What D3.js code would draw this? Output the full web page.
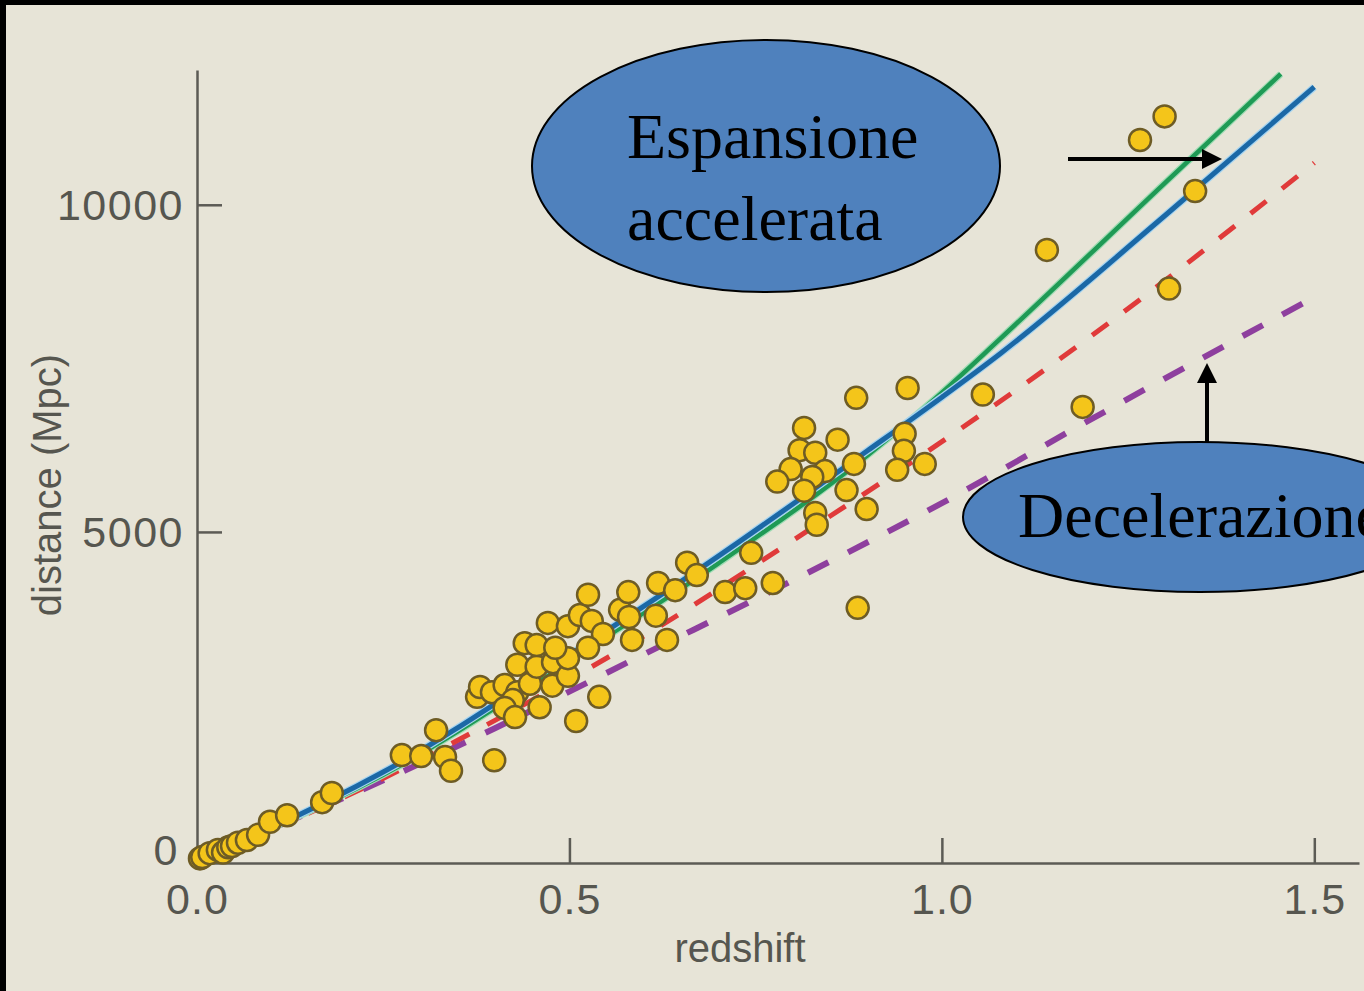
<!DOCTYPE html>
<html>
<head>
<meta charset="utf-8">
<script src="https://cdn.jsdelivr.net/npm/d3@7"></script>
<style>
  html, body { margin: 0; padding: 0; background: #000; }
  svg { display: block; }
</style>
</head>
<body>
<svg id="chart" width="1364" height="991"></svg>
<script>
// Hubble diagram: type Ia supernova distances against redshift, with model curves.

const redshiftTicks = [0, 0.5, 1.0, 1.5];
const distanceTicks = [0, 5000, 10000];

// Observed supernovae: [redshift, distance in Mpc]
const supernovae = [
  [0.004, 10], [0.007, 30], [0.017, 90], [0.028, 140], [0.035, 100], [0.042, 180],
  [0.047, 200], [0.055, 250], [0.067, 290], [0.082, 370], [0.098, 570], [0.121, 670],
  [0.168, 870], [0.181, 1010],
  [0.275, 1590], [0.301, 1575], [0.321, 1970], [0.333, 1560], [0.341, 1350], [0.399, 1510],
  [0.376, 2480], [0.380, 2630], [0.396, 2550], [0.413, 2660], [0.430, 2550], [0.424, 2430],
  [0.413, 2310], [0.427, 2170], [0.447, 2680], [0.460, 2320], [0.477, 2650], [0.430, 2970],
  [0.456, 2940], [0.478, 3010], [0.498, 2800], [0.498, 3070], [0.440, 3300], [0.456, 3270],
  [0.481, 3230], [0.471, 3610], [0.498, 3560], [0.514, 3730], [0.530, 3640], [0.545, 3440],
  [0.525, 3230], [0.525, 4040], [0.540, 2480], [0.509, 2110], [0.568, 3810], [0.580, 3700],
  [0.584, 3350], [0.579, 4080], [0.616, 3720], [0.631, 3350], [0.619, 4220], [0.642, 4110],
  [0.658, 4530], [0.671, 4340], [0.709, 4080], [0.736, 4140], [0.773, 4220], [0.744, 4680],
  [0.887, 3840],
  [0.885, 7050], [0.954, 7200], [1.055, 7100], [0.815, 6590], [0.860, 6410], [0.950, 6500],
  [0.809, 6250], [0.830, 6210], [0.949, 6240], [0.797, 5960], [0.843, 5930], [0.882, 6040],
  [0.977, 6040], [0.940, 5950], [0.779, 5770], [0.826, 5840], [0.815, 5630], [0.872, 5640],
  [0.899, 5350], [0.830, 5290], [0.832, 5110],
  [1.299, 11350], [1.266, 10990], [1.340, 10210], [1.141, 9310], [1.305, 8720], [1.189, 6910]
];

// Model curves: [redshift, distance in Mpc]
const curveGreen = [[0, 0], [0.1, 470], [0.25, 1290], [0.5, 3040], [0.7, 4520], [0.9, 6170],
  [1.0, 7130], [1.08, 7970], [1.3, 10340], [1.455, 12000]];
const curveBlue = [[0, 0], [0.1, 480], [0.25, 1330], [0.5, 3120], [0.7, 4630], [0.9, 6240],
  [1.0, 7060], [1.08, 7740], [1.3, 9840], [1.5, 11800]];
const curveRed = [[0, 0], [0.2, 960], [0.4, 2120], [0.6, 3410], [0.8, 4870], [1.0, 6380],
  [1.2, 7990], [1.5, 10640]];
const curvePurple = [[0, 0], [0.2, 950], [0.4, 2000], [0.6, 3130], [0.8, 4260], [1.0, 5440],
  [1.2, 6720], [1.505, 8620]];

const svg = d3.select("#chart");

// slide panel
svg.append("rect").attr("x", 6).attr("y", 5).attr("width", 1358).attr("height", 986)
  .attr("fill", "#e7e4d7");

const x = d3.scaleLinear().domain([0, 1.56]).range([197, 1359]);
const y = d3.scaleLinear().domain([-60, 12060]).range([863, 70]);

const axisColor = "#5c5b55";
const labelColor = "#56564f";
const sans = "'Liberation Sans', Arial, Helvetica, sans-serif";

// y axis
const gy = svg.append("g").attr("transform", `translate(${x(0)},0)`)
  .call(d3.axisLeft(y).tickValues(distanceTicks).tickSizeInner(-25).tickSizeOuter(0)
    .tickPadding(13).tickFormat(d3.format("d")));
gy.select(".domain").attr("stroke", axisColor).attr("stroke-width", 2.5);
gy.selectAll(".tick line").attr("stroke", axisColor).attr("stroke-width", 2.5)
  .attr("display", d => d === 0 ? "none" : null);
gy.selectAll(".tick text").attr("fill", labelColor).attr("font-family", sans)
  .attr("font-size", 43).attr("letter-spacing", 1.5)
  .attr("dy", d => d === 0 ? "0.12em" : "0.34em")
  .attr("dx", d => d === 0 ? -5 : 0);

// x axis
const gx = svg.append("g").attr("transform", `translate(0,${y(-60)})`)
  .call(d3.axisBottom(x).tickValues(redshiftTicks).tickSizeInner(-25).tickSizeOuter(0)
    .tickPadding(20).tickFormat(d3.format(".1f")));
gx.select(".domain").attr("stroke", axisColor).attr("stroke-width", 2.5);
gx.selectAll(".tick line").attr("stroke", axisColor).attr("stroke-width", 2.5)
  .attr("display", d => d === 0 ? "none" : null);
gx.selectAll(".tick text").attr("fill", labelColor).attr("font-family", sans)
  .attr("font-size", 43).attr("letter-spacing", 1);

// axis titles
svg.append("text").attr("x", 740).attr("y", 962).attr("text-anchor", "middle")
  .attr("font-family", sans).attr("font-size", 40).attr("fill", labelColor)
  .text("redshift");
svg.append("text").attr("transform", "translate(61,485) rotate(-90)")
  .attr("text-anchor", "middle").attr("font-family", sans).attr("font-size", 40)
  .attr("fill", labelColor).text("distance (Mpc)");

// model curves
const line = d3.line().x(d => x(d[0])).y(d => y(d[1])).curve(d3.curveMonotoneX);
const curves = svg.append("g").attr("fill", "none").attr("stroke-linecap", "butt");

curves.append("path").datum(curvePurple).attr("d", line)
  .attr("stroke", "#8e3f9e").attr("stroke-width", 6).attr("stroke-dasharray", "23 22");
curves.append("path").datum(curveRed).attr("d", line)
  .attr("stroke", "#e03a3a").attr("stroke-width", 5).attr("stroke-dasharray", "20 20");
curves.append("path").datum(curveGreen).attr("d", line)
  .attr("stroke", "#9fdcb4").attr("stroke-width", 7);
curves.append("path").datum(curveGreen).attr("d", line)
  .attr("stroke", "#1f9a55").attr("stroke-width", 4.5);
curves.append("path").datum(curveBlue).attr("d", line)
  .attr("stroke", "#a6d4f0").attr("stroke-width", 7.5);
curves.append("path").datum(curveBlue).attr("d", line)
  .attr("stroke", "#1b68a6").attr("stroke-width", 5);

// supernova markers
svg.append("g").selectAll("circle").data(supernovae).join("circle")
  .attr("cx", d => x(d[0])).attr("cy", d => y(d[1])).attr("r", 11)
  .attr("fill", "#f4c51a").attr("stroke", "#6e5c25").attr("stroke-width", 2.5);

// callouts
const serif = "'Liberation Serif', 'Times New Roman', Times, serif";
const notes = svg.append("g");

notes.append("ellipse").attr("cx", 766).attr("cy", 166).attr("rx", 234).attr("ry", 126)
  .attr("fill", "#4f81bd").attr("stroke", "#000").attr("stroke-width", 2);
notes.append("text").attr("x", 627).attr("y", 158).attr("font-family", serif)
  .attr("font-size", 64).attr("fill", "#000").text("Espansione");
notes.append("text").attr("x", 627).attr("y", 240).attr("font-family", serif)
  .attr("font-size", 64).attr("fill", "#000").text("accelerata");

notes.append("ellipse").attr("cx", 1200).attr("cy", 517).attr("rx", 237).attr("ry", 75)
  .attr("fill", "#4f81bd").attr("stroke", "#000").attr("stroke-width", 2);
notes.append("text").attr("x", 1018).attr("y", 537).attr("font-family", serif)
  .attr("font-size", 64).attr("fill", "#000").text("Decelerazione");

// arrows
notes.append("line").attr("x1", 1068).attr("y1", 159).attr("x2", 1204).attr("y2", 159)
  .attr("stroke", "#000").attr("stroke-width", 4);
notes.append("path").attr("d", "M1202,149 L1222,159 L1202,169 Z").attr("fill", "#000");
notes.append("line").attr("x1", 1207).attr("y1", 442).attr("x2", 1207).attr("y2", 381)
  .attr("stroke", "#000").attr("stroke-width", 4);
notes.append("path").attr("d", "M1197,383 L1207,363 L1217,383 Z").attr("fill", "#000");
</script>
</body>
</html>
